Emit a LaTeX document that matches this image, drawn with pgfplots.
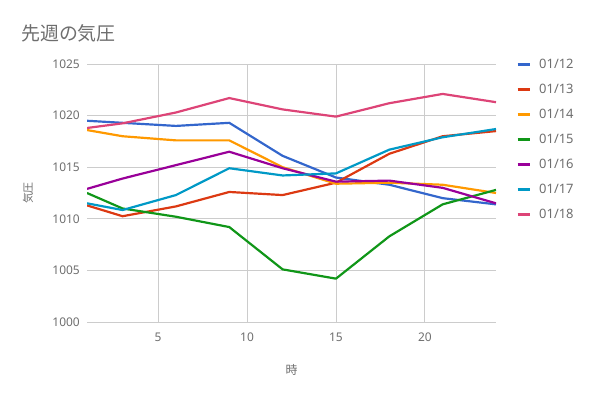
\documentclass[border=0pt]{standalone}
\usepackage{fontspec}
\setmainfont{Noto Sans}
\newfontfamily\cjk{Noto Sans CJK JP}
\usepackage{pgfplots}
\pgfplotsset{compat=1.18}
\definecolor{c1}{HTML}{3366CC}
\definecolor{c2}{HTML}{DC3912}
\definecolor{c3}{HTML}{FF9900}
\definecolor{c4}{HTML}{109618}
\definecolor{c5}{HTML}{990099}
\definecolor{c6}{HTML}{0099C6}
\definecolor{c7}{HTML}{DD4477}
\definecolor{gridc}{HTML}{CCCCCC}
\definecolor{labc}{HTML}{6E6E6E}
\begin{document}
\begin{tikzpicture}[x=1bp,y=1bp]
\path[use as bounding box] (0,0) rectangle (591,397);
\node[anchor=west,text=labc,inner sep=0pt,font=\cjk\fontsize{19}{22}\selectfont] at (21,364) {先週の気圧};
\begin{axis}[
  at={(87bp,75bp)}, anchor=south west,
  scale only axis, width=409bp, height=258bp,
  xmin=1, xmax=24, ymin=1000, ymax=1025,
  xtick={5,10,15,20}, ytick={1000,1005,...,1025},
  axis line style={draw=none},
  grid=major,
  major grid style={draw=gridc, line width=0.8pt},
  tick style={draw=none},
  /pgf/number format/assume math mode=true,
  /pgf/number format/1000 sep={},
  ticklabel style={font=\fontsize{12}{14}\selectfont, text=labc},
  yticklabel style={inner sep=0pt, xshift=-7bp, anchor=east},
  xticklabel style={inner sep=0pt, anchor=center, yshift=-15bp},
  xticklabel pos=lower, yticklabel pos=left,
  xlabel={\cjk 時}, ylabel={\cjk 気圧},
  xlabel style={at={(axis description cs:0.5,0)}, anchor=center, yshift=-48bp, font=\fontsize{12}{14}\selectfont, text=labc, inner sep=0pt},
  ylabel style={at={(axis description cs:-0.144,0.5)}, anchor=center, font=\fontsize{11}{13}\selectfont, text=labc, inner sep=0pt},
  every axis plot/.append style={line width=2.2pt, line join=round, no markers},
  legend image code/.code={\draw[line width=3pt] (0bp,0bp) -- (12bp,0bp);},
  legend style={at={(1,1)}, anchor=north west, xshift=20bp, yshift=4.5bp, draw=none, fill=none, inner sep=0pt, row sep=16bp, column sep=8bp,
    nodes={inner sep=0pt, text height=9bp, text depth=0bp, font=\fontsize{13}{15}\selectfont, text=labc}},
  legend cell align=left,
]
\addplot[c1] coordinates {(1,1019.5)(3,1019.3)(6,1019.0)(9,1019.3)(12,1016.1)(15,1014.0)(18,1013.3)(21,1012.0)(24,1011.4)};
\addplot[c2] coordinates {(1,1011.3)(3,1010.25)(6,1011.2)(9,1012.6)(12,1012.3)(15,1013.5)(18,1016.3)(21,1018.0)(24,1018.5)};
\addplot[c3] coordinates {(1,1018.6)(3,1018.0)(6,1017.6)(9,1017.6)(12,1015.0)(15,1013.4)(18,1013.5)(21,1013.3)(24,1012.5)};
\addplot[c4] coordinates {(1,1012.5)(3,1011.0)(6,1010.2)(9,1009.2)(12,1005.1)(15,1004.2)(18,1008.3)(21,1011.4)(24,1012.8)};
\addplot[c5] coordinates {(1,1012.9)(3,1013.9)(6,1015.2)(9,1016.5)(12,1014.9)(15,1013.6)(18,1013.7)(21,1013.0)(24,1011.5)};
\addplot[c6] coordinates {(1,1011.5)(3,1010.85)(6,1012.3)(9,1014.9)(12,1014.2)(15,1014.4)(18,1016.7)(21,1017.9)(24,1018.7)};
\addplot[c7] coordinates {(1,1018.8)(3,1019.25)(6,1020.3)(9,1021.7)(12,1020.6)(15,1019.9)(18,1021.2)(21,1022.1)(24,1021.3)};
\legend{01/12,01/13,01/14,01/15,01/16,01/17,01/18}
\end{axis}
\end{tikzpicture}
\end{document}
